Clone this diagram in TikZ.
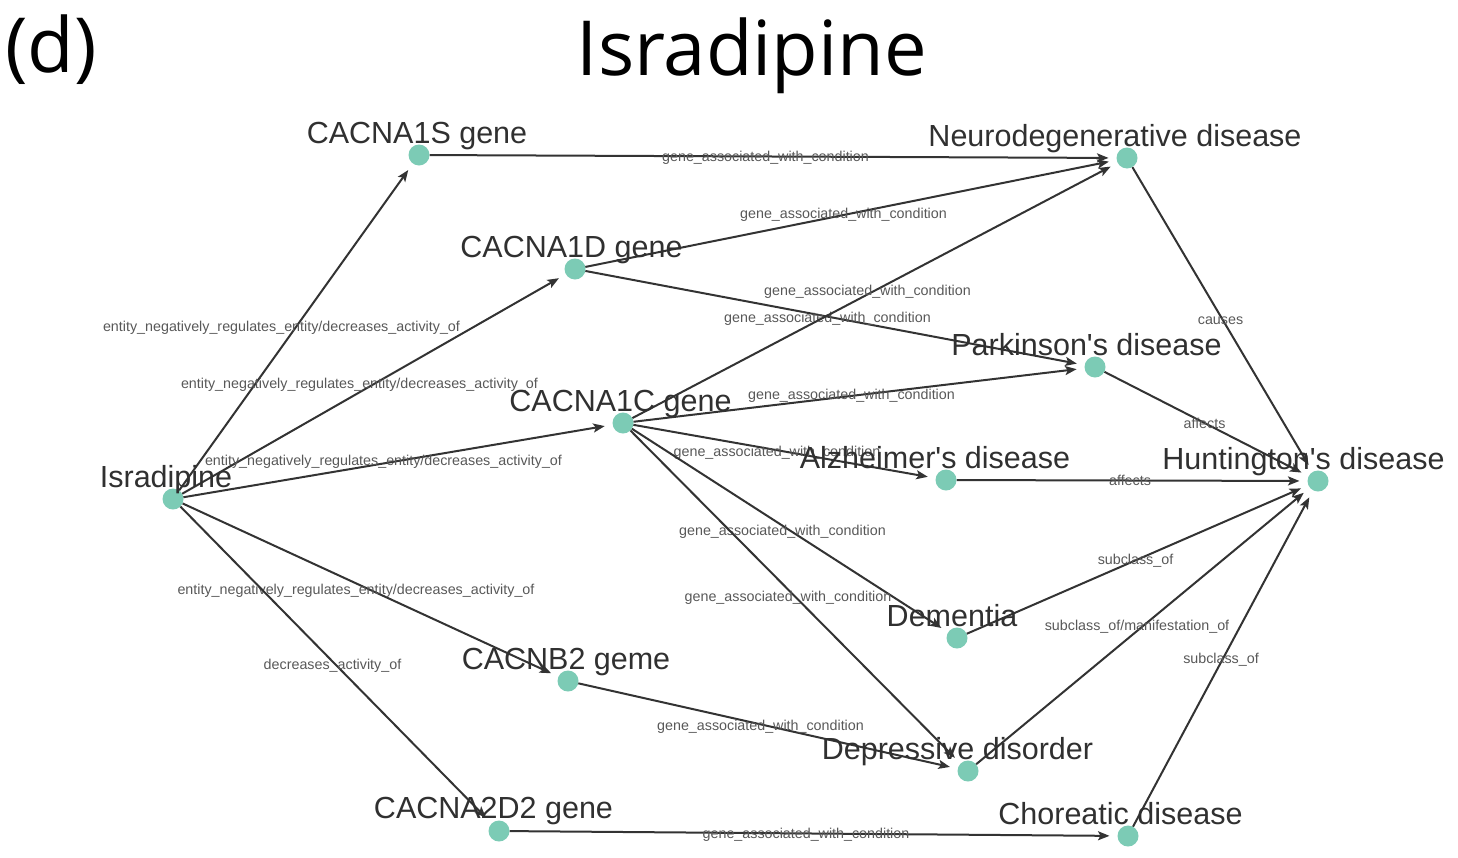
\documentclass[tikz,border=0pt]{standalone}
\usepackage{fontspec}
\setmainfont{Liberation Sans}
\newfontfamily\titlefont{Open Sans}
\usetikzlibrary{arrows.meta,backgrounds}
\definecolor{nodefill}{RGB}{124,203,181}
\definecolor{edgecol}{RGB}{51,51,51}
\definecolor{lblcol}{RGB}{48,48,48}
\definecolor{elblcol}{RGB}{88,88,88}
\begin{document}
\begin{tikzpicture}[x=1pt,y=-1pt,
  dot/.style={circle,fill=nodefill,minimum size=21pt,inner sep=0pt,outer sep=0pt},
  nlbl/.style={anchor=base,inner sep=0pt,text=lblcol,font=\fontsize{30.5}{36}\selectfont},
  edge/.style={draw=edgecol,line width=2pt,-{Stealth[length=11.5pt,width=9pt,inset=2.5pt]},shorten >=8pt},
  elbase/.style={anchor=base,inner sep=0pt,text=elblcol,font=\fontsize{14.3}{16}\selectfont,yshift=-4.5pt},
  gal/.style={elbase,xshift=-7.5pt},
  ent/.style={elbase,xshift=-14.5pt},
  shortl/.style={elbase,xshift=-2pt},
  mid/.style={elbase,xshift=-6pt},
  ttl/.style={anchor=base,inner sep=0pt,text=black,font=\titlefont\fontsize{76}{80}\selectfont}]
\useasboundingbox (0,0) rectangle (1458,857);

% title
\node[ttl] (title) at (752,75) {Isradipine};
\node[ttl] (panel) at (51,72) {(d)};

% nodes
\node[dot] (isr)   at (173,499) {};
\node[dot] (s1)    at (419,155) {};
\node[dot] (d1)    at (575,269) {};
\node[dot] (c1)    at (623,423) {};
\node[dot] (b2)    at (568,681) {};
\node[dot] (d22)   at (499,831) {};
\node[dot] (neuro) at (1127,158) {};
\node[dot] (park)  at (1095,367) {};
\node[dot] (alz)   at (946,480) {};
\node[dot] (hunt)  at (1318,481) {};
\node[dot] (dem)   at (957,638) {};
\node[dot] (dep)   at (968,771) {};
\node[dot] (chor)  at (1128,836) {};

% node labels
\node[nlbl] (lisr)   at (166,487) {Isradipine};
\node[nlbl] (ls1)    at (417,143) {CACNA1S gene};
\node[nlbl] (ld1)    at (571.5,257) {CACNA1D gene};
\node[nlbl] (lc1)    at (620.5,411) {CACNA1C gene};
\node[nlbl] (lb2)    at (566,669) {CACNB2 geme};
\node[nlbl] (ld22)   at (493.5,818) {CACNA2D2 gene};
\node[nlbl] (lneuro) at (1115,146) {Neurodegenerative disease};
\node[nlbl] (lpark)  at (1086.5,355) {Parkinson\textquotesingle s disease};
\node[nlbl] (lalz)   at (935,468) {Alzheimer\textquotesingle s disease};
\node[nlbl] (lhunt)  at (1303.5,469) {Huntington\textquotesingle s disease};
\node[nlbl] (ldem)   at (952,626) {Dementia};
\node[nlbl] (ldep)   at (957.5,759) {Depressive disorder};
\node[nlbl] (lchor)  at (1120.5,824) {Choreatic disease};

% edges
\begin{scope}[on background layer]
\draw[edge] (isr) -- node[ent]{entity\_negatively\_regulates\_entity/decreases\_activity\_of} (s1);
\draw[edge] (isr) -- node[ent]{entity\_negatively\_regulates\_entity/decreases\_activity\_of} (d1);
\draw[edge] (isr) -- node[ent]{entity\_negatively\_regulates\_entity/decreases\_activity\_of} (c1);
\draw[edge] (isr) -- node[ent]{entity\_negatively\_regulates\_entity/decreases\_activity\_of} (b2);
\draw[edge] (isr) -- node[shortl,xshift=-1.5pt]{decreases\_activity\_of} (d22);
\draw[edge] (s1) -- node[gal]{gene\_associated\_with\_condition} (neuro);
\draw[edge] (d1) -- node[gal]{gene\_associated\_with\_condition} (neuro);
\draw[edge] (d1) -- node[gal]{gene\_associated\_with\_condition} (park);
\draw[edge] (c1) -- node[gal]{gene\_associated\_with\_condition} (neuro);
\draw[edge] (c1) -- node[gal]{gene\_associated\_with\_condition} (park);
\draw[edge] (c1) -- node[gal]{gene\_associated\_with\_condition} (alz);
\draw[edge] (c1) -- node[gal]{gene\_associated\_with\_condition} (dem);
\draw[edge] (c1) -- node[gal]{gene\_associated\_with\_condition} (dep);
\draw[edge] (b2) -- node[gal]{gene\_associated\_with\_condition} (dep);
\draw[edge] (d22) -- node[gal]{gene\_associated\_with\_condition} (chor);
\draw[edge] (neuro) -- node[shortl]{causes} (hunt);
\draw[edge] (park) -- node[shortl]{affects} (hunt);
\draw[edge] (alz) -- node[shortl]{affects} (hunt);
\draw[edge] (dem) -- node[shortl]{subclass\_of} (hunt);
\draw[edge] (dep) -- node[mid]{subclass\_of/manifestation\_of} (hunt);
\draw[edge] (chor) -- node[shortl]{subclass\_of} (hunt);
\end{scope}
\end{tikzpicture}
\end{document}
